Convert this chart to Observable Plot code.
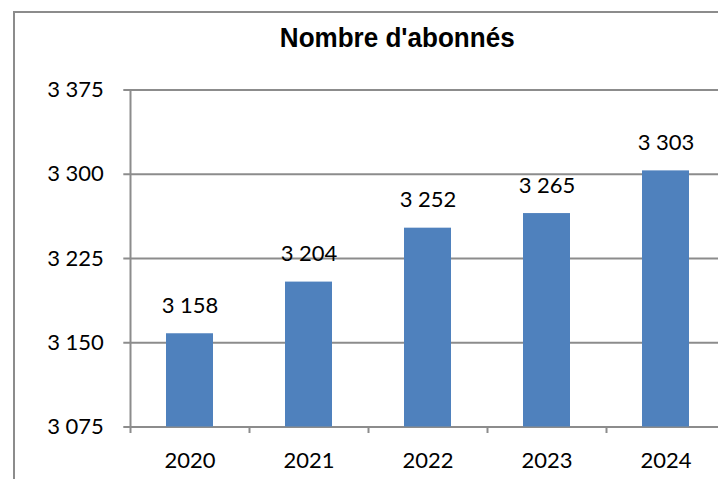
<!DOCTYPE html>
<html>
<head>
<meta charset="utf-8">
<script src="https://cdn.jsdelivr.net/npm/d3@7"></script>
<script src="https://cdn.jsdelivr.net/npm/@observablehq/plot@0.6"></script>
<style>
  html, body { margin: 0; padding: 0; background: #fff; overflow: hidden; }
  #wrap { position: relative; width: 718px; height: 479px; overflow: hidden; }
  #frame { position: absolute; left: 12.7px; top: 10.7px; width: 800px; height: 600px;
           border: 2px solid #8c8c8c; box-sizing: border-box; pointer-events: none; }
  #title { position: absolute; left: 0; top: 23.5px; width: 795px; text-align: center;
           font-family: "Liberation Sans", Arial, sans-serif; font-weight: bold; font-size: 28px;
           line-height: 28px; color: #000; white-space: nowrap; }
  #title span { display: inline-block; transform: scaleX(0.93); transform-origin: center; }
  #chart { position: absolute; left: 0; top: 0; }
</style>
</head>
<body>
<div id="wrap">
  <div id="chart"></div>
  <div id="frame"></div>
  <div id="title"><span></span></div>
</div>
<script>
const title = "Nombre d'abonnés";
const years = ["2020", "2021", "2022", "2023", "2024"];
const values = [3158, 3204, 3252, 3265, 3303];
const yTicks = [3075, 3150, 3225, 3300, 3375];

const fmt = n => String(n).replace(/\B(?=(\d{3})+(?!\d))/g, " ");
const data = years.map((y, i) => ({year: y, value: values[i]}));

document.querySelector("#title span").textContent = title;

const grey = "#8c8c8c";
const step = (725.3 - 130.3) / years.length;

const chart = Plot.plot({
  width: 718,
  height: 479,
  marginLeft: 130.3,
  marginRight: 0,
  marginTop: 89.5,
  marginBottom: 52.5,
  style: {background: "transparent", fontFamily: "Lato, 'Open Sans', sans-serif", fontSize: "22px", color: "#000"},
  x: {domain: years, range: [130.3, 725.3], paddingInner: 0.605, paddingOuter: 0.3025, axis: null},
  y: {domain: [3075, 3375], range: [426.5, 89.5], axis: null},
  marks: [
    Plot.ruleY(yTicks, {y: d => d, stroke: grey, strokeWidth: 2, insetLeft: -7}),
    Plot.barY(data, {x: "year", y1: 3075, y2: "value", fill: "#4F81BD"}),
    Plot.ruleX([years[0]], {x: d => d, dx: -step / 2, stroke: grey, strokeWidth: 2, insetBottom: -6.5}),
    Plot.ruleX(years.slice(1), {x: d => d, dx: -step / 2, stroke: grey, strokeWidth: 2, insetTop: 337, insetBottom: -6.5}),
    Plot.text(yTicks, {y: d => d, text: d => fmt(d), frameAnchor: "left", dx: -27, textAnchor: "end", fill: "#000"}),
    Plot.text(years, {x: d => d, y: 3075, text: d => d, dy: 34, fill: "#000"}),
    Plot.text(data, {x: "year", y: "value", text: d => fmt(d.value), dy: -28, fill: "#000"})
  ]
});
document.getElementById("chart").appendChild(chart);
</script>
</body>
</html>
